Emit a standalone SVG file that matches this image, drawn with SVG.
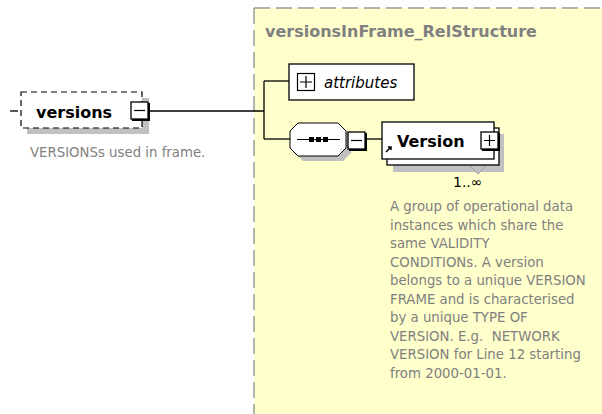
<svg xmlns="http://www.w3.org/2000/svg" width="602" height="414" viewBox="0 0 602 414">
<defs>
<style>
.bold{font-family:"DejaVu Sans",Verdana,sans-serif;font-weight:bold;}
.desc{font-family:"DejaVu Sans",Verdana,sans-serif;font-size:13.3px;fill:#808080;}
.box{fill:#fff;stroke:#000;stroke-width:1.3;}
.shadow{fill:#c0c0c0;}
.conn{stroke:#000;stroke-width:1.3;fill:none;}
</style>
</defs>
<rect width="602" height="414" fill="#fff"/>
<g id="versionsInFrame_RelStructure">
<rect x="254" y="8" width="360" height="420" fill="#ffffcc"/>
<path d="M254,8 H602 M254,8 V414" stroke="#9a9a9a" stroke-width="1.5" stroke-dasharray="16,6" fill="none"/>
<text class="bold" x="265" y="37" font-size="16" fill="#808080">versionsInFrame_RelStructure</text>
</g>
<g id="connectors">
<path class="conn" d="M10,111 H18"/>
<path class="conn" d="M150,111 H264"/>
<path class="conn" d="M264,81 V139"/>
<path class="conn" d="M264,81 H289"/>
<path class="conn" d="M264,139 H290"/>
<path class="conn" d="M345,139 H348"/>
<path class="conn" d="M366,139 H382"/>
</g>
<g id="versions">
<rect class="shadow" x="27" y="98" width="122" height="36"/>
<rect x="21" y="92" width="121" height="36" fill="#fff" stroke="#000" stroke-width="1.2" stroke-dasharray="6,4"/>
<text class="bold" x="36" y="118" font-size="16" fill="#000">versions</text>
<rect x="132" y="103" width="18" height="18" fill="#000"/>
<rect class="box" x="131" y="102" width="17" height="17"/>
<path d="M134,110.5 H145" stroke="#000" stroke-width="1.2"/>
<text class="desc" x="30" y="157" font-size="13.5px">VERSIONSs used in frame.</text>
</g>
<g id="attributes">
<rect class="box" x="289" y="64" width="125" height="36"/>
<rect x="297.5" y="73.5" width="17" height="17" fill="#fff" stroke="#000" stroke-width="1.2"/>
<path d="M300,82 H312 M306,76 V88" stroke="#000" stroke-width="1.2"/>
<text x="324" y="88" font-family="'DejaVu Sans',Verdana,sans-serif" font-style="italic" font-size="15" fill="#000">attributes</text>
</g>
<g id="sequence">
<path class="shadow" d="M303,128 H343 L351,136 V153 L343,161 H303 L295,153 V136 Z"/>
<path d="M298,123 H338 L346,131 V148 L338,156 H298 L290,148 V131 Z" fill="#fff" stroke="#000" stroke-width="1"/>
<path d="M297,139.5 H340" stroke="#000" stroke-width="1.2"/>
<rect x="309" y="137" width="5" height="5" fill="#000"/>
<rect x="316" y="137" width="5" height="5" fill="#000"/>
<rect x="323" y="137" width="5" height="5" fill="#000"/>
<rect x="349" y="133" width="18" height="18" fill="#000"/>
<rect class="box" x="348" y="132" width="17" height="17"/>
<path d="M351,140.5 H362" stroke="#000" stroke-width="1.2"/>
</g>
<g id="Version">
<rect class="shadow" x="393" y="134" width="111" height="38"/>
<path d="M470,166 L478,174 L486,166" fill="#c0c0c0" stroke="#a0a0a0" stroke-width="1"/>
<rect class="box" x="387" y="128" width="112" height="37"/>
<rect class="box" x="382" y="122" width="112" height="37"/>
<text class="bold" x="397" y="147" font-size="16" fill="#000">Version</text>
<path d="M386,152 L391,147 M388,147 H391 V150" stroke="#000" stroke-width="1.5" fill="none"/>
<rect x="482" y="133" width="18" height="18" fill="#000"/>
<rect class="box" x="481" y="132" width="17" height="17"/>
<path d="M484,140.5 H495 M489.5,135 V146" stroke="#000" stroke-width="1.2"/>
<text x="453" y="187" font-family="'DejaVu Sans',Verdana,sans-serif" font-size="14" fill="#000">1..∞</text>
<text class="desc">
<tspan x="390" y="211">A group of operational data</tspan>
<tspan x="390" y="229.5">instances which share the</tspan>
<tspan x="390" y="248">same VALIDITY</tspan>
<tspan x="390" y="266.5">CONDITIONs. A version</tspan>
<tspan x="390" y="285">belongs to a unique VERSION</tspan>
<tspan x="390" y="303.5">FRAME and is characterised</tspan>
<tspan x="390" y="322">by a unique TYPE OF</tspan>
<tspan x="390" y="340.5">VERSION. E.g.&#160; NETWORK</tspan>
<tspan x="390" y="359">VERSION for Line 12 starting</tspan>
<tspan x="390" y="377.5">from 2000-01-01.</tspan>
</text>
</g>
</svg>
